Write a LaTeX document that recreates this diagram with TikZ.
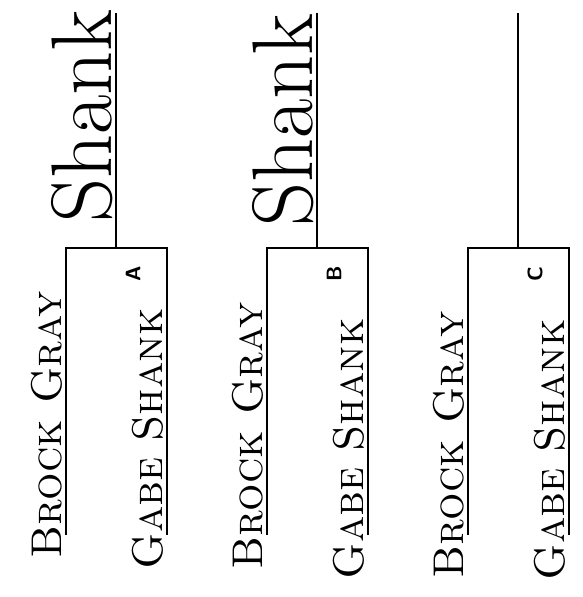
\documentclass[tikz,border=0pt]{standalone}
\usepackage{fontspec}
\usetikzlibrary{positioning}
\tikzset{
    line/.style={line width=1.6pt},
    player/.style={rotate=90, anchor=south, inner sep=1pt, font=\fontsize{43}{46}\selectfont\scshape},
    winner/.style={rotate=90, anchor=south, inner sep=1pt, font=\fontsize{86}{90}\selectfont},
    tag/.style={rotate=90, inner sep=0pt, font=\sffamily\bfseries\fontsize{21}{23}\selectfont}
}

\begin{document}
\begin{tikzpicture}[x=1pt,y=-1pt]
    \useasboundingbox (0,0) rectangle (583,597);

    % The three brackets
    \foreach \i/\dx/\lab/\yb/\yg in {a/0/A/425/439, b/201/B/436/449, c/402/C/445/450} {
        % Bracket corners
        \coordinate (\i top) at (116+\dx,13);
        \coordinate (\i mid) at (116+\dx,248);
        \coordinate (\i l) at (66+\dx,248);
        \coordinate (\i r) at (167+\dx,248);
        \coordinate (\i lb) at (66+\dx,535);
        \coordinate (\i rb) at (167+\dx,535);

        % Lines
        \draw [line] (\i lb) -- (\i l) -- (\i r) -- (\i rb);
        \draw [line] (\i mid) -- (\i top);

        % Players and match letter
        \node [player] (\i brock) at (64+\dx,\yb) {Brock Gray};
        \node [player] (\i gabe) at (165+\dx,\yg) {Gabe Shank};
        \node [tag] (\i tag) at (133+\dx,274) {\lab};
    }

    % Winners
    \node [winner] (awin) at (114,116) {Shank};
    \node [winner] (bwin) at (315,120) {Shank};
\end{tikzpicture}
\end{document}
